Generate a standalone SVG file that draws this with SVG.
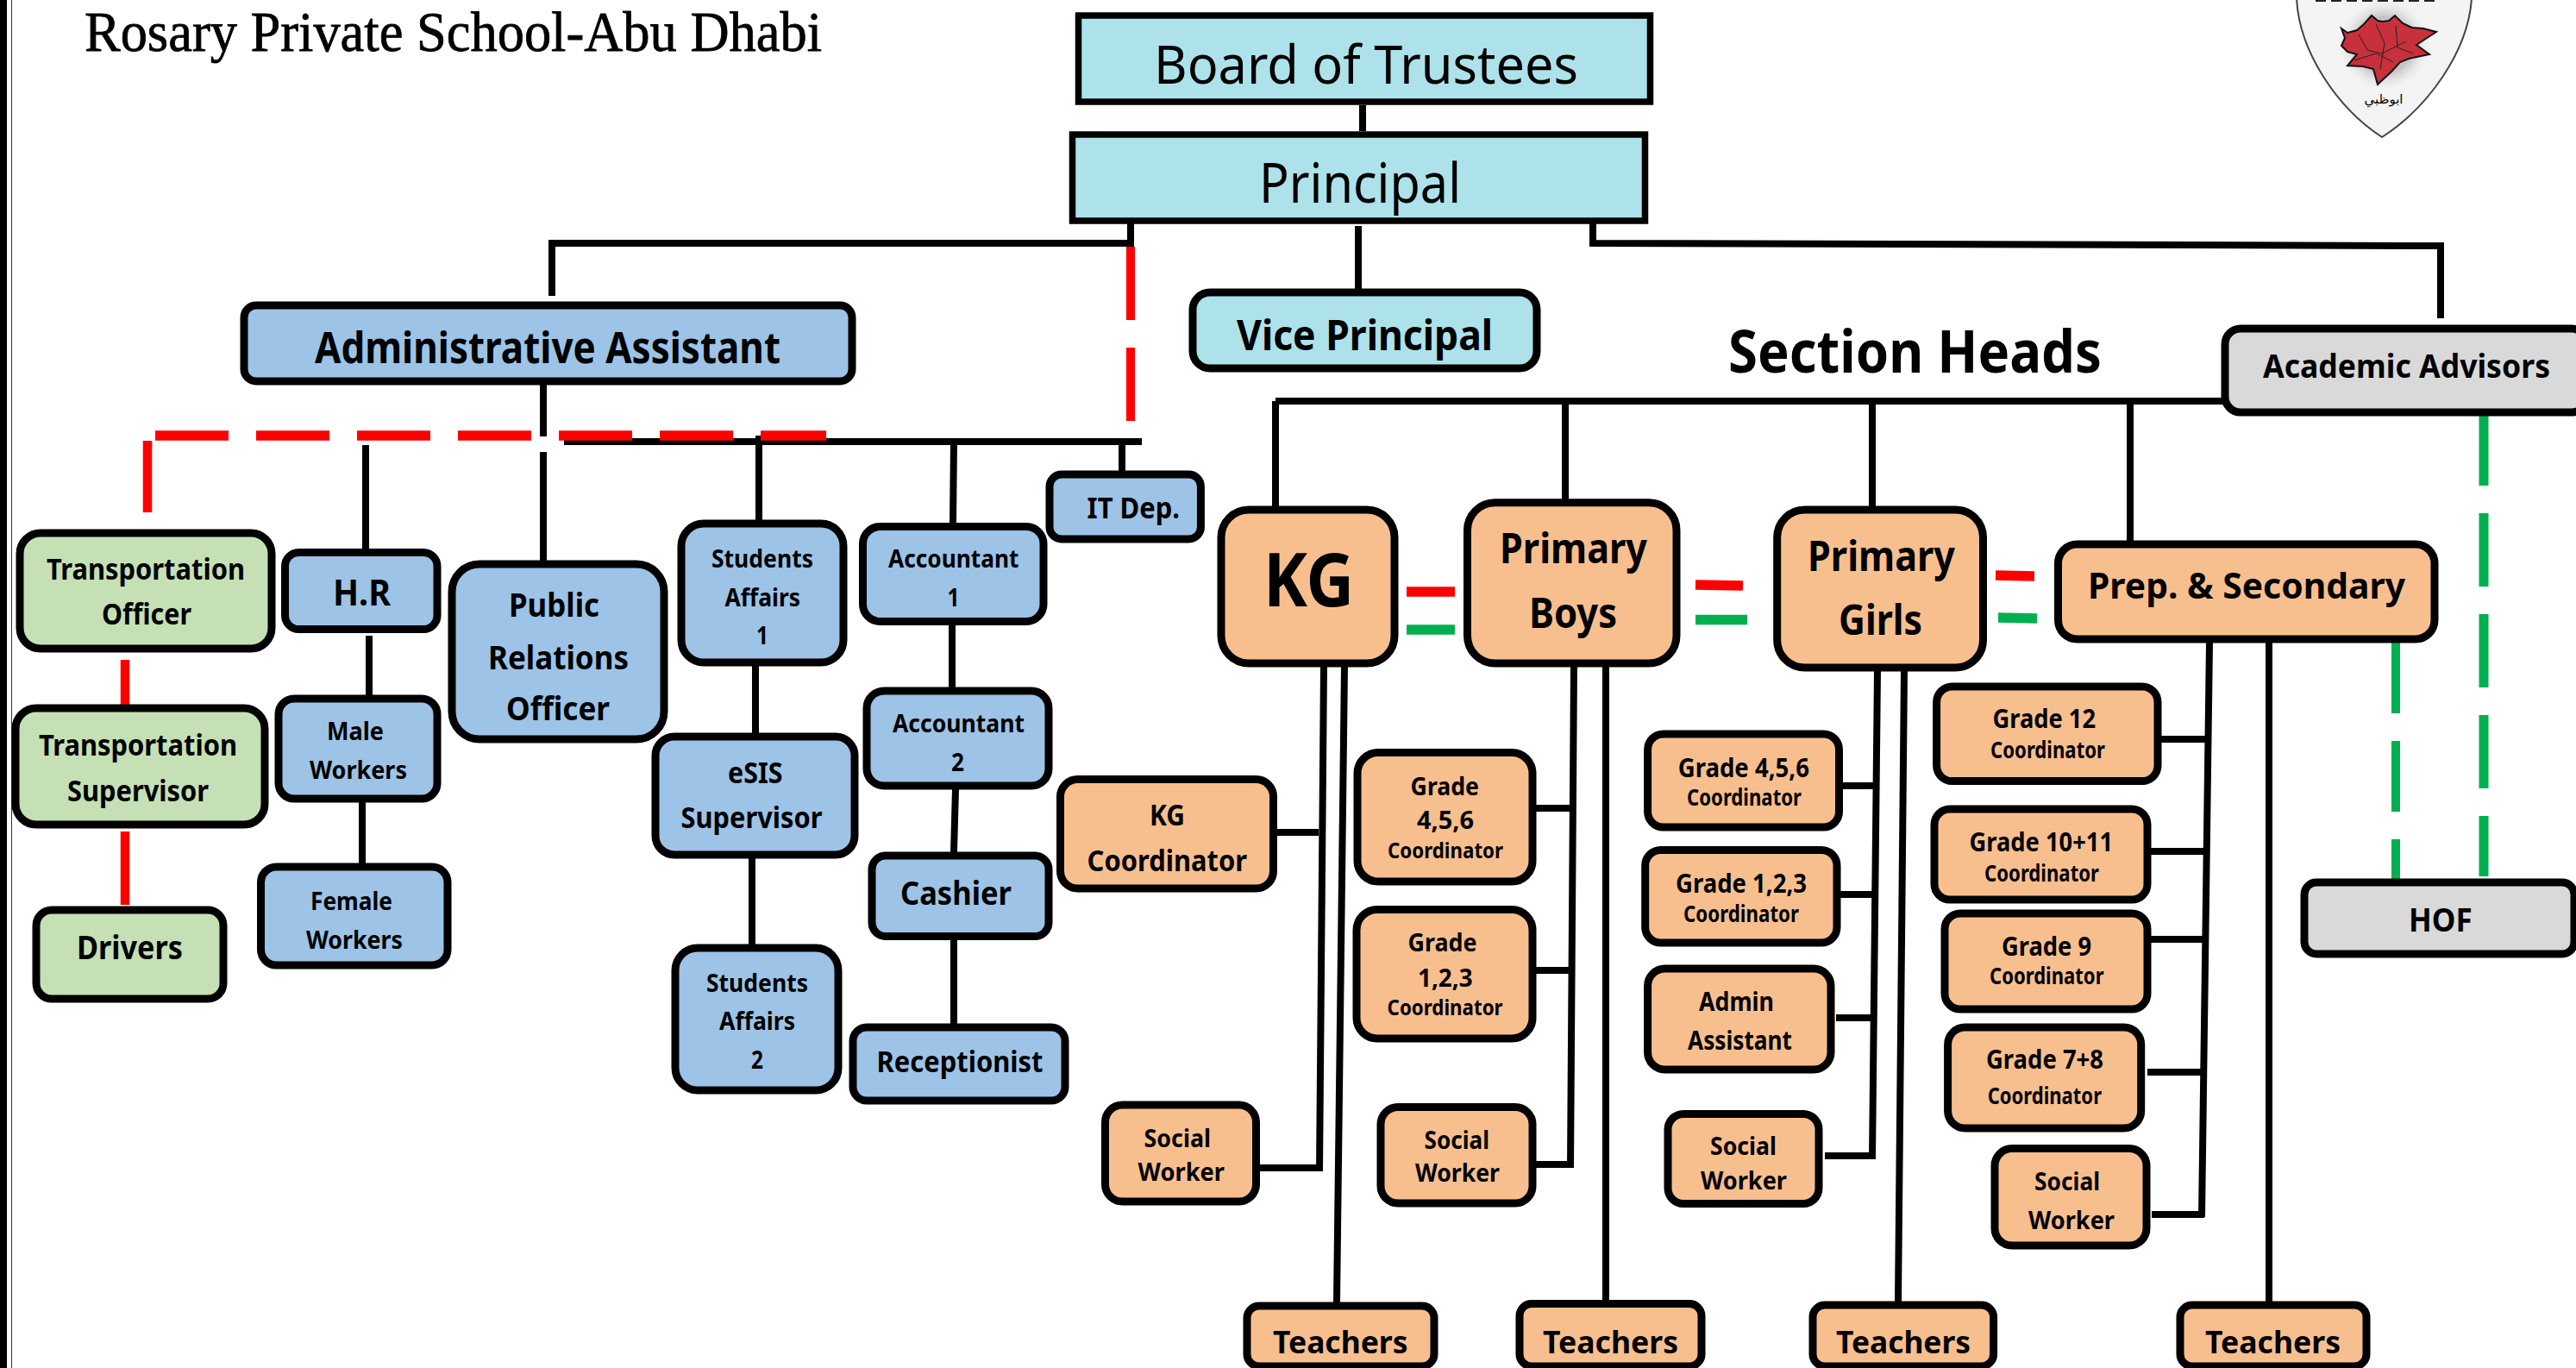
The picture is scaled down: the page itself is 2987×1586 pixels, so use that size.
<svg xmlns="http://www.w3.org/2000/svg" width="2987" height="1586" viewBox="0 0 2987 1586">
<style>
text{font-family:"Noto Sans","Open Sans","Liberation Sans",sans-serif;font-weight:700;fill:#000}
.n rect{stroke:#000;stroke-width:9}
.sq rect{stroke-width:7.500}
.teal rect{fill:#ADE2EA}.blue rect{fill:#9DC3E6}.green rect{fill:#C5E0B4}.or rect{fill:#F8BF8E}.gray rect{fill:#D9D9D9}
.c path{fill:none;stroke:#000;stroke-width:8}
.dash{stroke-dasharray:85 32}
.s23{font-size:25px}.s25{font-size:27px}.s26{font-size:28px}.s27{font-size:29px}.s29{font-size:31px}.s32{font-size:34px}.s33{font-size:35px}.s36{font-size:38px}.s40{font-size:42px}.s45{font-size:48px}.s48{font-size:50px}
</style>
<defs><radialGradient id="halo"><stop offset="0.6" stop-color="#c4c4c4"/><stop offset="1" stop-color="#eee" stop-opacity="0"/></radialGradient></defs>
<rect width="2987" height="1586" fill="#fff"/>
<rect x="0" y="0" width="8" height="1586" fill="#000"/>
<path d="M13.5 0V1586" stroke="#333" stroke-width="1"/>
<g id="title"><text x="98" y="59" textLength="855" lengthAdjust="spacingAndGlyphs" style="font-family:'Liberation Serif',serif;font-weight:400;font-size:66px;stroke:#000;stroke-width:0.800">Rosary Private School-Abu Dhabi</text></g>
<g id="logo">
<path d="M2663 -2C2666 60 2710 125 2762 159C2815 125 2862 60 2866 -2Z" fill="#f4f4f4" stroke="#444" stroke-width="2"/>
<circle cx="2765" cy="52" r="54" fill="url(#halo)"/>
<path d="M2715 33L2722 38L2733 35L2741 28L2750 18L2757 24L2763 25L2770 24L2777 18L2786 27L2797 32L2810 33L2825 37L2802 52L2817 63L2793 68L2783 72L2773 83L2757 98L2752 80L2740 77L2722 76L2733 63L2722 60L2715 53L2719 44Z" fill="#C8303C" stroke="#111" stroke-width="2"/>
<path d="M2735 40L2745 58L2762 62L2790 48M2755 28L2765 50L2760 80M2778 30L2780 55L2798 62M2730 70L2755 62L2775 72" fill="none" stroke="#222" stroke-width="1"/>
<path d="M2685 1H2825" stroke="#222" stroke-width="2" stroke-dasharray="12 6"/>
<text x="2764" y="120" text-anchor="middle" style="font-family:'DejaVu Sans',sans-serif;font-weight:400;font-size:15px">ابوظبي</text>
</g>
<g id="connectors" class="c">
<path d="M1580 122V152"/>
<path d="M1311 259V282M1315 282H640V343"/>
<path d="M1575 262V335"/>
<path d="M1847 259V282L2834 285M2830 285V369"/>
<path d="M630 446V506M630 524V650"/>
<path d="M654 512H1324"/>
<path d="M424 516V637M880 505V604M1106 512L1105 607M1301 512V546"/>
<path d="M428 737V806M420 930V1001M876 772V850M872 995V1095M1104 724V797M1108 915L1106 988M1106 1089V1187"/>
<path d="M1479 465V587M1815 465V579M2171 465V587M2470 465V627M1479 465H2578"/>
<path d="M1535 773L1530 1358M1559 773L1550 1510M1480 965H1529M1460 1354H1530"/>
<path d="M1825 773L1821 1354M1862 773V1508M1781 937H1825M1781 1125H1822M1781 1350H1825"/>
<path d="M2177 778L2171 1344M2208 778L2201 1509M2136 911H2175M2134 1037H2174M2129 1180H2173M2116 1340H2174"/>
<path d="M2562 745L2553 1411M2631 745V1509M2506 857H2561M2494 987H2559M2494 1089H2557M2490 1243H2556M2495 1408H2556"/>
<path style="stroke:#F00;stroke-width:11.500" class="dash" d="M180 505H958"/>
<path style="stroke:#F00;stroke-width:10.500" d="M171 511V594M145 765V817M145 964V1049"/>
<path class="dash" style="stroke:#F00;stroke-width:10" d="M1311 286V488"/>
<path class="dash" style="stroke:#00B050;stroke-width:11" d="M2880 478V1016"/>
<path style="stroke:#00B050;stroke-width:10;stroke-dasharray:82 32" d="M2778 745V1019"/>
<path style="stroke:#F00;stroke-width:11.500" d="M1631 686H1687M1966 678L2021 679M2314 667L2359 668"/>
<path style="stroke:#00B050;stroke-width:11.500" d="M1631 730H1687M1966 718.500H2026M2317 716L2362 717"/>
</g>
<g id="board" class="n sq teal"><rect x="1250.500" y="18" width="663" height="100"/><text x="1338" y="97" textLength="492" lengthAdjust="spacingAndGlyphs" style="font-weight:400;font-size:62px">Board of Trustees</text></g>
<g id="principal" class="n sq teal"><rect x="1243.500" y="156" width="664" height="100"/><text x="1460" y="235" textLength="234" lengthAdjust="spacingAndGlyphs" style="font-weight:400;font-size:63px">Principal</text></g>
<g id="vice-principal" class="n teal"><rect x="1383" y="339" width="399" height="88" rx="20"/><text x="1434" y="406" textLength="297" lengthAdjust="spacingAndGlyphs" class="s45">Vice Principal</text></g>
<g id="admin-assistant" class="n blue"><rect x="283" y="354" width="705" height="88" rx="14"/><text x="365" y="421" textLength="540" lengthAdjust="spacingAndGlyphs" class="s48">Administrative Assistant</text></g>
<g id="section-heads"><text x="2004" y="432" textLength="433" lengthAdjust="spacingAndGlyphs" style="font-size:68px">Section Heads</text></g>
<g id="academic-advisors" class="n gray"><rect x="2580" y="381" width="420" height="97" rx="18"/><text x="2624" y="438" textLength="333" lengthAdjust="spacingAndGlyphs" class="s36">Academic Advisors</text></g>
<g id="transportation-officer" class="n green"><rect x="23" y="618" width="292" height="134" rx="24"/><text x="54" y="672" textLength="230" lengthAdjust="spacingAndGlyphs" class="s32">Transportation</text><text x="118" y="724" textLength="104" lengthAdjust="spacingAndGlyphs" class="s32">Officer</text></g>
<g id="transportation-supervisor" class="n green"><rect x="18" y="821" width="289" height="135" rx="24"/><text x="45" y="876" textLength="230" lengthAdjust="spacingAndGlyphs" class="s32">Transportation</text><text x="78" y="929" textLength="164" lengthAdjust="spacingAndGlyphs" class="s32">Supervisor</text></g>
<g id="drivers" class="n green"><rect x="42" y="1055" width="217" height="103" rx="18"/><text x="89" y="1112" textLength="123" lengthAdjust="spacingAndGlyphs" class="s36">Drivers</text></g>
<g id="hr" class="n blue"><rect x="330.500" y="640.500" width="176.500" height="89" rx="16"/><text x="386" y="702" textLength="67" lengthAdjust="spacingAndGlyphs" class="s40">H.R</text></g>
<g id="male-workers" class="n blue"><rect x="323" y="810" width="184" height="116" rx="18"/><text x="379" y="858" textLength="66" lengthAdjust="spacingAndGlyphs" class="s27">Male</text><text x="359" y="903" textLength="113" lengthAdjust="spacingAndGlyphs" class="s27">Workers</text></g>
<g id="female-workers" class="n blue"><rect x="302.500" y="1005" width="216.500" height="114" rx="18"/><text x="360" y="1055" textLength="95" lengthAdjust="spacingAndGlyphs" class="s27">Female</text><text x="355" y="1100" textLength="112" lengthAdjust="spacingAndGlyphs" class="s27">Workers</text></g>
<g id="public-relations-officer" class="n blue"><rect x="524" y="654" width="246" height="203" rx="32"/><text x="590" y="715" textLength="105" lengthAdjust="spacingAndGlyphs" class="s36">Public</text><text x="566" y="776" textLength="163" lengthAdjust="spacingAndGlyphs" class="s36">Relations</text><text x="587" y="835" textLength="120" lengthAdjust="spacingAndGlyphs" class="s36">Officer</text></g>
<g id="students-affairs-1" class="n blue"><rect x="790" y="607" width="188" height="161" rx="26"/><text x="825" y="658" textLength="118" lengthAdjust="spacingAndGlyphs" class="s26">Students</text><text x="840.500" y="703" textLength="87.500" lengthAdjust="spacingAndGlyphs" class="s26">Affairs</text><text x="877" y="747" textLength="14" lengthAdjust="spacingAndGlyphs" class="s26">1</text></g>
<g id="esis-supervisor" class="n blue"><rect x="760" y="854" width="231" height="137" rx="22"/><text x="844" y="908" textLength="63.500" lengthAdjust="spacingAndGlyphs" class="s32">eSIS</text><text x="789.500" y="960" textLength="164" lengthAdjust="spacingAndGlyphs" class="s32">Supervisor</text></g>
<g id="students-affairs-2" class="n blue"><rect x="783" y="1099" width="189" height="165" rx="26"/><text x="819" y="1149.500" textLength="118" lengthAdjust="spacingAndGlyphs" class="s26">Students</text><text x="834" y="1194" textLength="88" lengthAdjust="spacingAndGlyphs" class="s26">Affairs</text><text x="871" y="1239" textLength="14" lengthAdjust="spacingAndGlyphs" class="s26">2</text></g>
<g id="accountant-1" class="n blue"><rect x="1000.500" y="610.500" width="209.500" height="110" rx="20"/><text x="1030" y="658" textLength="151.500" lengthAdjust="spacingAndGlyphs" class="s27">Accountant</text><text x="1098.600" y="702.600" textLength="14" lengthAdjust="spacingAndGlyphs" class="s27">1</text></g>
<g id="accountant-2" class="n blue"><rect x="1005" y="801" width="211" height="110" rx="20"/><text x="1035" y="849" textLength="153" lengthAdjust="spacingAndGlyphs" class="s27">Accountant</text><text x="1103" y="894" textLength="15" lengthAdjust="spacingAndGlyphs" class="s27">2</text></g>
<g id="it-dep" class="n blue"><rect x="1217" y="550" width="175.400" height="75" rx="14"/><text x="1260.600" y="601" textLength="107.400" lengthAdjust="spacingAndGlyphs" class="s32">IT Dep.</text></g>
<g id="cashier" class="n blue"><rect x="1011" y="992" width="205" height="93.500" rx="16"/><text x="1044" y="1049" textLength="129" lengthAdjust="spacingAndGlyphs" class="s36">Cashier</text></g>
<g id="receptionist" class="n blue"><rect x="989" y="1191" width="246" height="85" rx="16"/><text x="1016.600" y="1243" textLength="192.900" lengthAdjust="spacingAndGlyphs" class="s32">Receptionist</text></g>
<g id="kg-coordinator" class="n or"><rect x="1229.500" y="903.600" width="247" height="126.400" rx="20"/><text x="1333" y="957" textLength="41" lengthAdjust="spacingAndGlyphs" class="s32">KG</text><text x="1260.600" y="1010" textLength="185.400" lengthAdjust="spacingAndGlyphs" class="s32">Coordinator</text></g>
<g id="kg" class="n or"><rect x="1416" y="591" width="201" height="178" rx="32"/><text x="1465" y="702.600" textLength="105" lengthAdjust="spacingAndGlyphs" style="font-size:86px">KG</text></g>
<g id="primary-boys" class="n or"><rect x="1701.500" y="582.700" width="242.500" height="186.300" rx="32"/><text x="1739" y="653" textLength="171" lengthAdjust="spacingAndGlyphs" class="s45">Primary</text><text x="1773" y="728" textLength="102" lengthAdjust="spacingAndGlyphs" class="s45">Boys</text></g>
<g id="primary-girls" class="n or"><rect x="2060.700" y="591" width="238.800" height="183" rx="32"/><text x="2096" y="661.500" textLength="171" lengthAdjust="spacingAndGlyphs" class="s45">Primary</text><text x="2132" y="736" textLength="97" lengthAdjust="spacingAndGlyphs" class="s45">Girls</text></g>
<g id="prep-secondary" class="n or"><rect x="2386.500" y="631" width="436.500" height="110" rx="22"/><text x="2421" y="694" textLength="368" lengthAdjust="spacingAndGlyphs" class="s40">Prep. &amp; Secondary</text></g>
<g id="grade-456-boys" class="n or"><rect x="1574" y="872.500" width="203" height="149.500" rx="24"/><text x="1635.600" y="921.500" textLength="79.400" lengthAdjust="spacingAndGlyphs" class="s26">Grade</text><text x="1643" y="961" textLength="66" lengthAdjust="spacingAndGlyphs" class="s26">4,5,6</text><text x="1609" y="995" textLength="134" lengthAdjust="spacingAndGlyphs" class="s23">Coordinator</text></g>
<g id="grade-123-boys" class="n or"><rect x="1573" y="1054.400" width="204" height="149.600" rx="24"/><text x="1632.500" y="1103" textLength="80" lengthAdjust="spacingAndGlyphs" class="s26">Grade</text><text x="1644" y="1144" textLength="63.600" lengthAdjust="spacingAndGlyphs" class="s26">1,2,3</text><text x="1608.600" y="1177" textLength="134" lengthAdjust="spacingAndGlyphs" class="s23">Coordinator</text></g>
<g id="social-kg" class="n or"><rect x="1281.500" y="1281" width="175" height="112" rx="20"/><text x="1326.600" y="1329.600" textLength="77.400" lengthAdjust="spacingAndGlyphs" class="s27">Social</text><text x="1319.600" y="1369" textLength="100.400" lengthAdjust="spacingAndGlyphs" class="s27">Worker</text></g>
<g id="social-boys" class="n or"><rect x="1601" y="1283.500" width="176" height="111.500" rx="20"/><text x="1651.500" y="1331.500" textLength="75.500" lengthAdjust="spacingAndGlyphs" class="s27">Social</text><text x="1641" y="1370" textLength="98" lengthAdjust="spacingAndGlyphs" class="s27">Worker</text></g>
<g id="grade-456-girls" class="n or"><rect x="1910.600" y="851" width="221.900" height="108" rx="18"/><text x="1945.700" y="901" textLength="152.300" lengthAdjust="spacingAndGlyphs" class="s29">Grade 4,5,6</text><text x="1956" y="934" textLength="133" lengthAdjust="spacingAndGlyphs" class="s25">Coordinator</text></g>
<g id="grade-123-girls" class="n or"><rect x="1907.700" y="985.500" width="222.300" height="107.500" rx="18"/><text x="1943" y="1034.500" textLength="152" lengthAdjust="spacingAndGlyphs" class="s29">Grade 1,2,3</text><text x="1952" y="1069" textLength="134" lengthAdjust="spacingAndGlyphs" class="s25">Coordinator</text></g>
<g id="admin-assistant-girls" class="n or"><rect x="1910.600" y="1123" width="212.400" height="117" rx="20"/><text x="1970" y="1172" textLength="87" lengthAdjust="spacingAndGlyphs" class="s29">Admin</text><text x="1957" y="1217" textLength="121" lengthAdjust="spacingAndGlyphs" class="s29">Assistant</text></g>
<g id="social-girls" class="n or"><rect x="1934" y="1291.500" width="175" height="104" rx="18"/><text x="1983" y="1339" textLength="77" lengthAdjust="spacingAndGlyphs" class="s27">Social</text><text x="1972" y="1379" textLength="100" lengthAdjust="spacingAndGlyphs" class="s27">Worker</text></g>
<g id="grade-12" class="n or"><rect x="2245.600" y="796" width="256.400" height="109.600" rx="18"/><text x="2310.500" y="844" textLength="119.500" lengthAdjust="spacingAndGlyphs" class="s29">Grade 12</text><text x="2308" y="879" textLength="133" lengthAdjust="spacingAndGlyphs" class="s25">Coordinator</text></g>
<g id="grade-10-11" class="n or"><rect x="2243" y="938" width="247" height="105" rx="18"/><text x="2283.600" y="987" textLength="166.400" lengthAdjust="spacingAndGlyphs" class="s29">Grade 10+11</text><text x="2301" y="1022" textLength="133" lengthAdjust="spacingAndGlyphs" class="s25">Coordinator</text></g>
<g id="grade-9" class="n or"><rect x="2255" y="1059" width="235" height="111" rx="18"/><text x="2321" y="1107.500" textLength="104" lengthAdjust="spacingAndGlyphs" class="s29">Grade 9</text><text x="2307" y="1141" textLength="132.500" lengthAdjust="spacingAndGlyphs" class="s25">Coordinator</text></g>
<g id="grade-7-8" class="n or"><rect x="2258.600" y="1191" width="224.100" height="117" rx="20"/><text x="2303" y="1239" textLength="136" lengthAdjust="spacingAndGlyphs" class="s29">Grade 7+8</text><text x="2304.700" y="1280" textLength="132.300" lengthAdjust="spacingAndGlyphs" class="s25">Coordinator</text></g>
<g id="social-prep" class="n or"><rect x="2313" y="1331.600" width="176" height="112.400" rx="20"/><text x="2359" y="1380" textLength="76" lengthAdjust="spacingAndGlyphs" class="s27">Social</text><text x="2352" y="1425" textLength="100" lengthAdjust="spacingAndGlyphs" class="s27">Worker</text></g>
<g id="hof" class="n gray"><rect x="2672" y="1023" width="313" height="83" rx="14"/><text x="2793" y="1080" textLength="73.700" lengthAdjust="spacingAndGlyphs" class="s36">HOF</text></g>
<g id="teachers-kg" class="n or"><rect x="1446" y="1514" width="217" height="70" rx="14"/><text x="1476" y="1569" textLength="156.500" lengthAdjust="spacingAndGlyphs" class="s33">Teachers</text></g>
<g id="teachers-boys" class="n or"><rect x="1762" y="1511.500" width="211" height="72.500" rx="14"/><text x="1789" y="1569" textLength="157" lengthAdjust="spacingAndGlyphs" class="s33">Teachers</text></g>
<g id="teachers-girls" class="n or"><rect x="2102" y="1513" width="209.600" height="71" rx="14"/><text x="2129" y="1569" textLength="156" lengthAdjust="spacingAndGlyphs" class="s33">Teachers</text></g>
<g id="teachers-prep" class="n or"><rect x="2528" y="1513" width="216" height="71" rx="14"/><text x="2557" y="1569" textLength="157" lengthAdjust="spacingAndGlyphs" class="s33">Teachers</text></g>
</svg>
